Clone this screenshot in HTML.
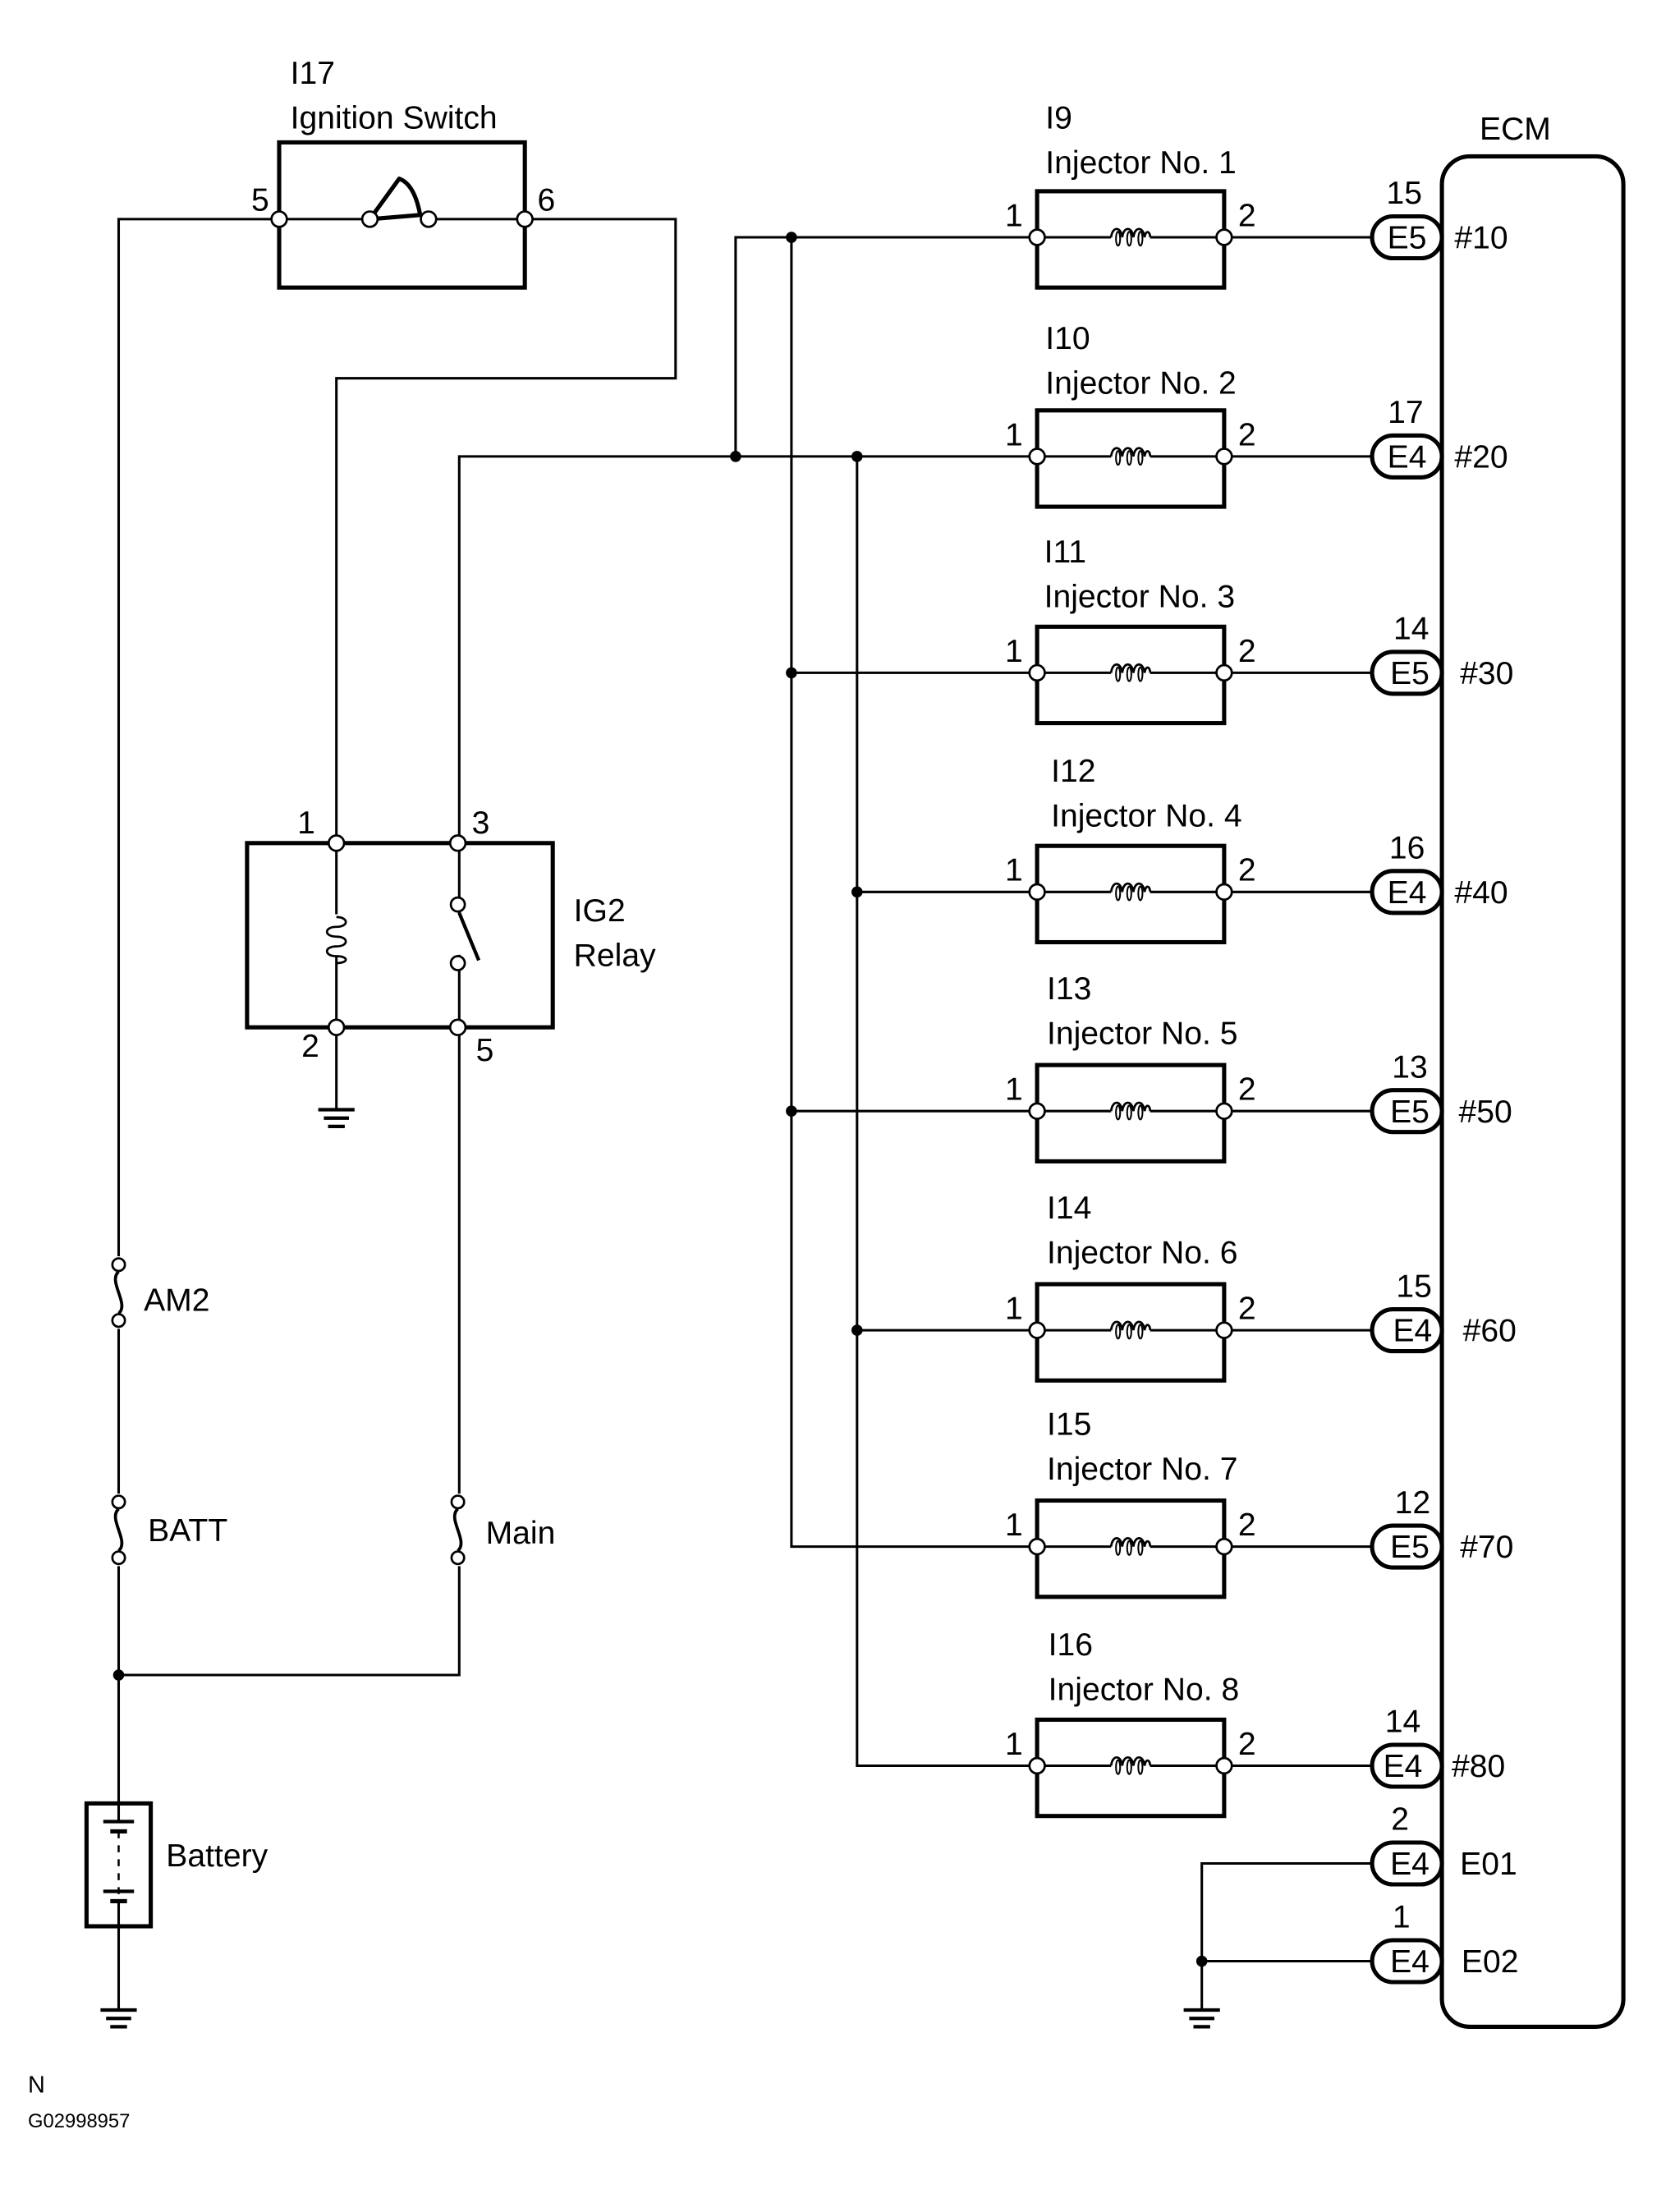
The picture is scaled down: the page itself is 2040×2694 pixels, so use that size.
<!DOCTYPE html>
<html><head><meta charset="utf-8"><style>
html,body{margin:0;padding:0;background:#fff;}
svg{display:block;}
text{font-family:"Liberation Sans",Arial,sans-serif;font-size:23px;fill:#000;}
</style></head><body>
<svg width="2040" height="2694" viewBox="0 0 1200 1584.7" xmlns="http://www.w3.org/2000/svg">
<defs>
<g id="inj">
 <rect x="743" y="-33" width="134" height="69" fill="none" stroke="#000" stroke-width="3"/>
 <line x1="743" y1="0" x2="796" y2="0" stroke="#000" stroke-width="1.8"/>
 <line x1="824" y1="0" x2="877" y2="0" stroke="#000" stroke-width="1.8"/>
 <path d="M796 0 C797 -8 803 -8 804 0 C805 -8 811 -8 812 0 C813 -8 819 -8 820 0 C821 -6 824 -4 824 0" fill="none" stroke="#000" stroke-width="1.6"/>
 <ellipse cx="801" cy="1" rx="1.5" ry="5" fill="none" stroke="#000" stroke-width="1.2"/>
 <ellipse cx="809" cy="1" rx="1.5" ry="5" fill="none" stroke="#000" stroke-width="1.2"/>
 <ellipse cx="817" cy="1" rx="1.5" ry="5" fill="none" stroke="#000" stroke-width="1.2"/>
 <line x1="877" y1="0" x2="985" y2="0" stroke="#000" stroke-width="1.8"/>
 <circle cx="743" cy="0" r="5.5" fill="#fff" stroke="#000" stroke-width="1.6"/>
 <circle cx="877" cy="0" r="5.5" fill="#fff" stroke="#000" stroke-width="1.6"/>
 <text x="720" y="-8">1</text><text x="887" y="-8">2</text>
</g>
<g id="conn">
 <rect x="983" y="-15" width="50" height="30" rx="15" fill="#fff" stroke="#000" stroke-width="3"/>
</g>
<g id="fuse">
 <circle cx="0" cy="-20" r="4.5" fill="#fff" stroke="#000" stroke-width="1.6"/>
 <circle cx="0" cy="20" r="4.5" fill="#fff" stroke="#000" stroke-width="1.6"/>
 <path d="M0 -15 C-8 -8 8 8 0 15" fill="none" stroke="#000" stroke-width="2.2"/>
</g>
<g id="gnd">
 <line x1="-13" y1="0" x2="13" y2="0" stroke="#000" stroke-width="2.5"/>
 <line x1="-9" y1="6" x2="9" y2="6" stroke="#000" stroke-width="2.5"/>
 <line x1="-6" y1="12" x2="6" y2="12" stroke="#000" stroke-width="2.5"/>
</g>
</defs>
<g stroke="#000" stroke-width="1.8" fill="none">
 <polyline points="200,157 85,157 85,1440"/>
 <polyline points="376,157 484,157 484,271 241,271 241,795"/>
 <polyline points="743,327 329,327 329,1200 85,1200"/>
 <polyline points="743,170 527,170 527,327"/>
 <polyline points="567,170 567,1108 743,1108"/>
 <polyline points="614,327 614,1265 743,1265"/>
 <line x1="567" y1="482" x2="743" y2="482"/>
 <line x1="567" y1="796" x2="743" y2="796"/>
 <line x1="614" y1="639" x2="743" y2="639"/>
 <line x1="614" y1="953" x2="743" y2="953"/>
 <polyline points="985,1335 861,1335 861,1440"/>
 <line x1="861" y1="1405" x2="985" y2="1405"/>
 <line x1="200" y1="157" x2="376" y2="157"/>
</g>
<rect x="78" y="900" width="14" height="52" fill="#fff"/>
<rect x="78" y="1070" width="14" height="52" fill="#fff"/>
<rect x="321" y="1070" width="14" height="52" fill="#fff"/>
<use href="#fuse" x="85" y="926"/>
<use href="#fuse" x="85" y="1096"/>
<use href="#fuse" x="328" y="1096"/>
<rect x="200" y="102" width="176" height="104" fill="none" stroke="#000" stroke-width="3"/>
<rect x="270" y="150" width="33" height="14" fill="#fff"/>
<path d="M265 157 L286 128 Q297 132 301 154 Z" fill="none" stroke="#000" stroke-width="3" stroke-linejoin="round"/>
<circle cx="200" cy="157" r="5.5" fill="#fff" stroke="#000" stroke-width="1.6"/>
<circle cx="265" cy="157" r="5.5" fill="#fff" stroke="#000" stroke-width="1.6"/>
<circle cx="307" cy="157" r="5.5" fill="#fff" stroke="#000" stroke-width="1.6"/>
<circle cx="376" cy="157" r="5.5" fill="#fff" stroke="#000" stroke-width="1.6"/>
<text x="208" y="60">I17</text><text x="208" y="92">Ignition Switch</text>
<text x="180" y="151">5</text><text x="385" y="151">6</text>
<rect x="177" y="604" width="219" height="132" fill="none" stroke="#000" stroke-width="3"/>
<rect x="230" y="655" width="20" height="30" fill="#fff"/>
<path d="M241 657 C250 657 250 664 241 664 C232 664 232 671 241 671 C250 671 250 678 241 678 C232 678 232 685 241 685 C250 685 250 690 241 690" fill="none" stroke="#000" stroke-width="1.6"/>
<rect x="322" y="655" width="12" height="29" fill="#fff"/>
<line x1="329" y1="654" x2="343" y2="688" stroke="#000" stroke-width="2.5"/>
<circle cx="328" cy="648" r="5" fill="#fff" stroke="#000" stroke-width="1.6"/>
<circle cx="328" cy="690" r="5" fill="#fff" stroke="#000" stroke-width="1.6"/>
<circle cx="241" cy="604" r="5.5" fill="#fff" stroke="#000" stroke-width="1.6"/>
<circle cx="328" cy="604" r="5.5" fill="#fff" stroke="#000" stroke-width="1.6"/>
<circle cx="241" cy="736" r="5.5" fill="#fff" stroke="#000" stroke-width="1.6"/>
<circle cx="328" cy="736" r="5.5" fill="#fff" stroke="#000" stroke-width="1.6"/>
<text x="213" y="597">1</text><text x="338" y="597">3</text>
<text x="216" y="757">2</text><text x="341" y="760">5</text>
<text x="411" y="660">IG2</text><text x="411" y="692">Relay</text>
<use href="#gnd" x="241" y="795"/>
<text x="103" y="939">AM2</text><text x="106" y="1104">BATT</text><text x="348" y="1106">Main</text>
<circle cx="85" cy="1200" r="4" fill="#000"/>
<rect x="62" y="1292" width="46" height="88" fill="#fff" stroke="#000" stroke-width="3"/>
<line x1="85" y1="1292" x2="85" y2="1305" stroke="#000" stroke-width="1.8"/>
<line x1="74" y1="1305" x2="96" y2="1305" stroke="#000" stroke-width="2.5"/>
<line x1="79" y1="1312" x2="91" y2="1312" stroke="#000" stroke-width="3"/>
<line x1="85" y1="1312" x2="85" y2="1360" stroke="#000" stroke-width="1.5" stroke-dasharray="5,5"/>
<line x1="74" y1="1355" x2="96" y2="1355" stroke="#000" stroke-width="2.5"/>
<line x1="79" y1="1362" x2="91" y2="1362" stroke="#000" stroke-width="3"/>
<line x1="85" y1="1362" x2="85" y2="1380" stroke="#000" stroke-width="1.8"/>
<text x="119" y="1337">Battery</text>
<use href="#gnd" x="85" y="1440"/>
<use href="#gnd" x="861" y="1440"/>
<g fill="#000">
<circle cx="567" cy="170" r="4"/><circle cx="527" cy="327" r="4"/><circle cx="614" cy="327" r="4"/>
<circle cx="567" cy="482" r="4"/><circle cx="614" cy="639" r="4"/><circle cx="567" cy="796" r="4"/>
<circle cx="614" cy="953" r="4"/><circle cx="861" cy="1405" r="4"/>
</g>
<use href="#inj" y="170"/><use href="#inj" y="327"/><use href="#inj" y="482"/><use href="#inj" y="639"/>
<use href="#inj" y="796"/><use href="#inj" y="953"/><use href="#inj" y="1108"/><use href="#inj" y="1265"/>
<text x="749" y="92">I9</text><text x="749" y="124">Injector No. 1</text>
<text x="749" y="250">I10</text><text x="749" y="282">Injector No. 2</text>
<text x="748" y="403">I11</text><text x="748" y="435">Injector No. 3</text>
<text x="753" y="560">I12</text><text x="753" y="592">Injector No. 4</text>
<text x="750" y="716">I13</text><text x="750" y="748">Injector No. 5</text>
<text x="750" y="873">I14</text><text x="750" y="905">Injector No. 6</text>
<text x="750" y="1028">I15</text><text x="750" y="1060">Injector No. 7</text>
<text x="751" y="1186">I16</text><text x="751" y="1218">Injector No. 8</text>
<rect x="1033" y="112" width="130" height="1340" rx="20" fill="none" stroke="#000" stroke-width="3"/>
<text x="1060" y="100">ECM</text>
<g>
<use href="#conn" y="170"/><use href="#conn" y="327"/><use href="#conn" y="482"/><use href="#conn" y="639"/>
<use href="#conn" y="796"/><use href="#conn" y="953"/><use href="#conn" y="1108"/><use href="#conn" y="1265"/>
<use href="#conn" y="1335"/><use href="#conn" y="1405"/>
</g>
<g text-anchor="middle">
<text x="1008" y="178">E5</text><text x="1008" y="335">E4</text><text x="1010" y="490">E5</text><text x="1008" y="647">E4</text>
<text x="1010" y="804">E5</text><text x="1012" y="961">E4</text><text x="1010" y="1116">E5</text><text x="1005" y="1273">E4</text>
<text x="1010" y="1343">E4</text><text x="1010" y="1413">E4</text>
<text x="1006" y="146">15</text><text x="1007" y="303">17</text><text x="1011" y="458">14</text><text x="1008" y="615">16</text>
<text x="1010" y="772">13</text><text x="1013" y="929">15</text><text x="1012" y="1084">12</text><text x="1005" y="1241">14</text>
<text x="1003" y="1311">2</text><text x="1004" y="1381">1</text>
</g>
<text x="1042" y="178">#10</text><text x="1042" y="335">#20</text><text x="1046" y="490">#30</text><text x="1042" y="647">#40</text>
<text x="1045" y="804">#50</text><text x="1048" y="961">#60</text><text x="1046" y="1116">#70</text><text x="1040" y="1273">#80</text>
<text x="1046" y="1343">E01</text><text x="1047" y="1413">E02</text>
<text x="20" y="1499" style="font-size:17px">N</text>
<text x="20" y="1524" style="font-size:14px">G02998957</text>
</svg>
</body></html>
